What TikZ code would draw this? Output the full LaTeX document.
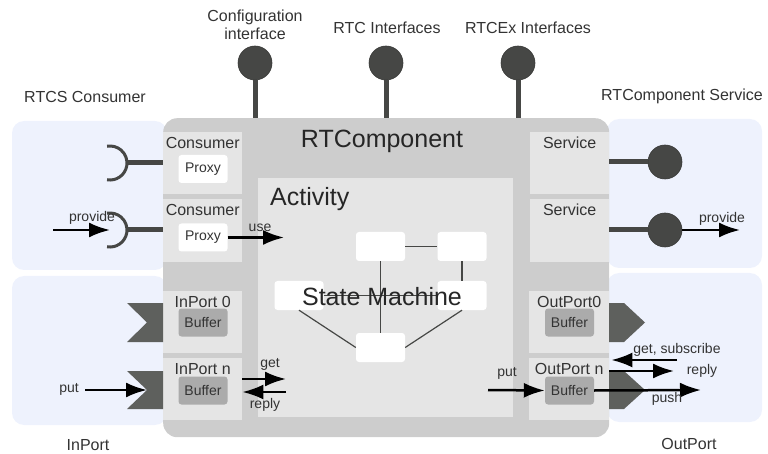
\documentclass[tikz,border=0pt]{standalone}
\usepackage{fontspec}
\setmainfont{Liberation Sans}
\usetikzlibrary{arrows.meta,positioning}

\definecolor{compgray}{HTML}{CDCDCD}
\definecolor{partgray}{HTML}{E5E5E5}
\definecolor{paleblue}{HTML}{EEF2FD}
\definecolor{ifgray}{HTML}{464745}
\definecolor{portgray}{HTML}{5E605D}
\definecolor{bufgray}{HTML}{ABABAB}
\definecolor{textgray}{HTML}{333333}

\tikzset{
  part/.style={fill=partgray, anchor=north west, inner sep=0pt, minimum width=79pt, minimum height=62pt},
  partlbl/.style={font=\fontsize{16}{18}\selectfont, text=textgray, inner sep=0pt},
  sidelbl/.style={font=\fontsize{16}{18}\selectfont, text=textgray, inner sep=0pt, align=center},
  flowlbl/.style={font=\fontsize{14}{16}\selectfont, text=textgray, inner sep=0pt},
  biglbl/.style={font=\fontsize{25}{28}\selectfont, text=black!85, inner sep=0pt},
  proxybox/.style={fill=white, rounded corners=3pt, minimum width=49pt, minimum height=28pt, inner sep=0pt, font=\fontsize{14}{16}\selectfont, text=textgray},
  bufbox/.style={proxybox, fill=bufgray},
  statebox/.style={fill=white, rounded corners=3pt, minimum width=49pt, minimum height=29pt, inner sep=0pt},
  lolli/.style={circle, fill=ifgray, draw=ifgray!80!black, line width=0.6pt, minimum size=34pt, inner sep=0pt},
  stem/.style={line width=5pt, draw=ifgray},
  socket/.style={line width=3pt, draw=ifgray},
  flow/.style={line width=2.5pt, draw=black, -{Latex[length=21pt,width=15pt]}},
  smline/.style={line width=1.2pt, draw=ifgray},
}

\begin{document}
\begin{tikzpicture}[x=1pt, y=-1pt]
  \useasboundingbox (0,0) rectangle (768,454);

  % side panels
  \fill[paleblue, rounded corners=12pt] (12,121) rectangle (167,270);
  \fill[paleblue, rounded corners=12pt] (12,276) rectangle (167,425);
  \fill[paleblue, rounded corners=12pt] (607,119) rectangle (762,268);
  \fill[paleblue, rounded corners=12pt] (607,273) rectangle (762,422);

  \node[sidelbl] (consside) at (85,97) {RTCS Consumer};
  \node[sidelbl] (svcside) at (682,96) {RTComponent Service};
  \node[sidelbl] (inside) at (88,445) {InPort};
  \node[sidelbl] (outside) at (689,444) {OutPort};

  % component
  \node[fill=compgray, rounded corners=14pt, anchor=north west, inner sep=0pt,
        minimum width=446pt, minimum height=319pt] (comp) at (163,118) {};
  \node[biglbl] (compname) at (382,141) {RTComponent};

  \node[part] (cons1) at (163,132) {};
  \node[part, minimum height=63pt] (cons2) at (163,199) {};
  \node[part] (inp0) at (163,291) {};
  \node[part] (inpn) at (163,358) {};
  \node[part] (svc1) at (530,132) {};
  \node[part, minimum height=63pt] (svc2) at (530,199) {};
  \node[part, minimum width=80pt] (outp0) at (529,291) {};
  \node[part, minimum width=80pt] (outpn) at (529,358) {};

  \node[partlbl, below=5pt of cons1.north] {Consumer};
  \node[partlbl, below=5pt of cons2.north] {Consumer};
  \node[partlbl, below=5pt of inp0.north] {InPort 0};
  \node[partlbl, below=5pt of inpn.north] {InPort n};
  \node[partlbl, below=5pt of svc1.north] {Service};
  \node[partlbl, below=5pt of svc2.north] {Service};
  \node[partlbl, below=5pt of outp0.north] {OutPort0};
  \node[partlbl, below=5pt of outpn.north] {OutPort n};

  \node[proxybox] (proxy1) at (203,169) {Proxy};
  \node[proxybox] (proxy2) at (203,237.5) {Proxy};
  \node[bufbox] (bufi0) at (203,322.5) {Buffer};
  \node[bufbox] (bufin) at (203,390.5) {Buffer};
  \node[bufbox] (bufo0) at (569.5,322.5) {Buffer};
  \node[bufbox] (bufon) at (569.5,390.5) {Buffer};

  % activity
  \node[part, minimum width=255pt, minimum height=239pt] (act) at (258,178) {};
  \node[biglbl, anchor=west] (actname) at (270,199) {Activity};

  \node[statebox] (smA) at (380.5,246.5) {};
  \node[statebox] (smB) at (462,246.5) {};
  \node[statebox] (smC) at (299,295.5) {};
  \node[statebox] (smD) at (462,295.5) {};
  \node[statebox] (smE) at (380.5,347.5) {};
  \draw[smline] (smA) -- (smB);
  \draw[smline] (smB) -- (smD);
  \draw[smline] (smA) -- (smE);
  \draw[smline] (smC) -- (smD);
  \draw[smline] (smC.south) -- (smE.west);
  \draw[smline] (smD.south) -- (smE.east);
  \node[biglbl] (smname) at (382,297) {State Machine};

  % interfaces on top
  \node[lolli] (cfgif) at (255,63) {};
  \node[lolli] (rtcif) at (386,63) {};
  \node[lolli] (rtcexif) at (518,63) {};
  \draw[stem] (cfgif.south) -- (cfgif |- comp.north);
  \draw[stem] (rtcif.south) -- (rtcif |- comp.north);
  \draw[stem] (rtcexif.south) -- (rtcexif |- comp.north);
  \node[sidelbl] (cfglbl) at (255,25) {Configuration\\interface};
  \node[sidelbl] (rtclbl) at (387,28) {RTC Interfaces};
  \node[sidelbl] (rtcexlbl) at (528,28) {RTCEx Interfaces};

  % consumer sockets
  \coordinate (sock1) at (110,163);
  \coordinate (sock2) at (110,230);
  \draw[stem] ([xshift=16pt]sock1) -- (sock1 -| cons1.west);
  \draw[stem] ([xshift=16pt]sock2) -- (sock2 -| cons2.west);
  \draw[socket] ([shift={(100:17)}]sock1) arc[start angle=100, end angle=-100, radius=17];
  \draw[socket] ([shift={(100:17)}]sock2) arc[start angle=100, end angle=-100, radius=17];
  \coordinate (provin) at (53,230);
  \draw[flow] (provin) -- (sock2);
  \node[flowlbl] (provinlbl) at (92,218) {provide};
  \coordinate (usehead) at (284,237.5);
  \draw[flow] (proxy2.east) -- (usehead);
  \node[flowlbl] (uselbl) at (260,228) {use};

  % services
  \node[lolli] (srv1) at (665,162) {};
  \node[lolli] (srv2) at (665,230) {};
  \draw[stem] (srv1 -| svc1.east) -- (srv1.west);
  \draw[stem] (srv2 -| svc2.east) -- (srv2.west);
  \coordinate (provout) at (740,230);
  \draw[flow] (srv2) -- (provout);
  \node[flowlbl] (provoutlbl) at (722,219) {provide};

  % ports
  \fill[portgray] (127,303) -- (163,303) -- (163,342) -- (127,342) -- (147,322.5) -- cycle;
  \fill[portgray] (127,371) -- (163,371) -- (163,409) -- (127,409) -- (147,390) -- cycle;
  \fill[portgray] (609,303) -- (624,303) -- (645,322.5) -- (624,342) -- (609,342) -- cycle;
  \fill[portgray] (609,371) -- (624,371) -- (645,390) -- (624,409) -- (609,409) -- cycle;

  \coordinate (putin) at (85,390);
  \coordinate (inpnotch) at (147,390);
  \draw[flow] (putin) -- (inpnotch);
  \node[flowlbl] (putinlbl) at (69,389) {put};
  \coordinate (gethead) at (286,379);
  \coordinate (replytail) at (286,392);
  \draw[flow] (inpn.east |- gethead) -- (gethead);
  \draw[flow] (replytail) -- (inpn.east |- replytail);
  \node[flowlbl] (getlbl) at (270,364) {get};
  \node[flowlbl] (replylbl) at (265,405) {reply};

  \coordinate (putout) at (488,390);
  \draw[flow] (putout) -- (bufon.west);
  \node[flowlbl] (putoutlbl) at (507,373) {put};
  \coordinate (pushhead) at (701,390);
  \draw[flow] (bufon.east) -- (pushhead);
  \node[flowlbl] (pushlbl) at (667,399) {push};
  \coordinate (subtail) at (677,360);
  \draw[flow] (subtail) -- ([xshift=2pt]subtail -| outpn.east);
  \node[flowlbl] (sublbl) at (677,350) {get, subscribe};
  \coordinate (replyhead) at (674,371);
  \draw[flow] (replyhead -| outpn.east) -- (replyhead);
  \node[flowlbl] (replyoutlbl) at (702,371) {reply};
\end{tikzpicture}
\end{document}
